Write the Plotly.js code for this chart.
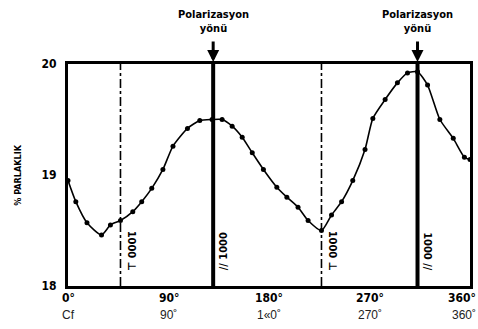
<!DOCTYPE html>
<html><head><meta charset="utf-8">
<script src="https://cdn.plot.ly/plotly-3.0.1.min.js"></script>
<style>body{margin:0;background:#fff}#c{width:478px;height:329px}</style>
</head><body><div id="c"></div>
<script>
// rotation angle (degrees) and brightness (%)
const angle = [0,7,17,30,38,47,58,66,75,85,94,107,118,129,138,147,156,165,175,187,196,206,215,227,236,245,255,266,273,284,295,304,313,322,333,345,355,360];
const brightness = [18.95,18.76,18.57,18.46,18.55,18.59,18.67,18.76,18.88,19.05,19.26,19.42,19.49,19.50,19.50,19.44,19.34,19.20,19.05,18.89,18.80,18.71,18.59,18.50,18.64,18.76,18.95,19.23,19.51,19.68,19.83,19.92,19.93,19.81,19.50,19.33,19.16,19.14];
const xTicks = [0,90,180,270,360];
const xTickTop = ['0°','90°','180°','270°','360°'];
const xTickBottom = ['Cf','90˚','1«0˚','270˚','360˚'];
const yTicks = [18,19,20];
const yTickText = ['18','19','20'];
// reference directions
const perpAngles = [47,227];
const perpLabels = ['1000 ⊥','1000 ⊥'];
const paraAngles = [130,313];
const paraLabels = ['// 1000','1000 //'];
const polLabel = 'Polarizasyon<br>yönü';

const bold = "DejaVu Sans Condensed, Liberation Sans Narrow, Arial";
const shapes = [];
const annotations = [];
perpAngles.forEach((a,i)=>{
  shapes.push({type:'line',xref:'x',yref:'paper',x0:a,x1:a,y0:0,y1:1,line:{color:'#000',width:1.6,dash:'dashdot'}});
  annotations.push({xref:'x',yref:'paper',x:a,y:0.06,xanchor:'left',yanchor:'bottom',xshift:2,text:perpLabels[i],textangle:90,showarrow:false,font:{family:bold,size:11,color:'#000',weight:'bold'}});
});
paraAngles.forEach((a,i)=>{
  shapes.push({type:'line',xref:'x',yref:'paper',x0:a,x1:a,y0:0,y1:1,line:{color:'#000',width:4}});
  annotations.push({xref:'x',yref:'paper',x:a,y:0.06,xanchor:'left',yanchor:'bottom',xshift:2,text:paraLabels[i],textangle:(i===0?-90:90),showarrow:false,font:{family:bold,size:11,color:'#000',weight:'bold'}});
  annotations.push({xref:'x',yref:'paper',x:a,y:1,ax:0,ay:-24,axref:'pixel',ayref:'pixel',text:'',showarrow:true,arrowhead:2,arrowsize:0.8,arrowwidth:3,arrowcolor:'#000',standoff:2});
  annotations.push({xref:'x',yref:'paper',x:a,y:1,yshift:27,yanchor:'bottom',text:'<b>'+polLabel+'</b>',showarrow:false,font:{family:bold,size:11,color:'#000'}});
});
xTicks.forEach((v,i)=>{
  const last = i===xTicks.length-1;
  annotations.push({xref:'x',yref:'paper',x:v,y:0,yshift:-3,yanchor:'top',xanchor:last?'right':'center',xshift:last?8:0,text:'<b>'+xTickTop[i]+'</b>',showarrow:false,font:{family:bold,size:12,color:'#000'}});
  annotations.push({xref:'x',yref:'paper',x:v,y:0,yshift:-20,yanchor:'top',xanchor:last?'right':'center',xshift:last?8:0,text:xTickBottom[i],showarrow:false,font:{family:'Arial, Liberation Sans',size:12,color:'#222'}});
});
annotations.push({xref:'paper',yref:'paper',x:-0.125,y:0.5,xanchor:'center',yanchor:'middle',text:'<b>% PARLAKLIK</b>',textangle:-90,showarrow:false,font:{family:bold,size:9,color:'#000'}});

Plotly.newPlot('c',[{
  x:angle,y:brightness,type:'scatter',mode:'lines+markers',line:{color:'#000',width:1.6,shape:'spline',smoothing:0.6},marker:{color:'#000',size:5},cliponaxis:true
}],{
  width:478,height:329,margin:{l:68,r:8,t:64,b:43},
  paper_bgcolor:'#fff',plot_bgcolor:'#fff',showlegend:false,
  xaxis:{range:[0,360],tickvals:xTicks,showticklabels:false,showgrid:false,zeroline:false,showline:true,mirror:true,linewidth:3,linecolor:'#000',ticks:''},
  yaxis:{range:[18,20],tickvals:yTicks,ticktext:yTickText.map(t=>'<b>'+t+'</b>'),showgrid:false,zeroline:false,showline:true,mirror:true,linewidth:3,linecolor:'#000',ticks:'outside',ticklen:6,tickcolor:'rgba(0,0,0,0)',tickfont:{family:bold,size:12,color:'#000'}},
  shapes:shapes,annotations:annotations
},{staticPlot:true,displayModeBar:false});
</script></body></html>
